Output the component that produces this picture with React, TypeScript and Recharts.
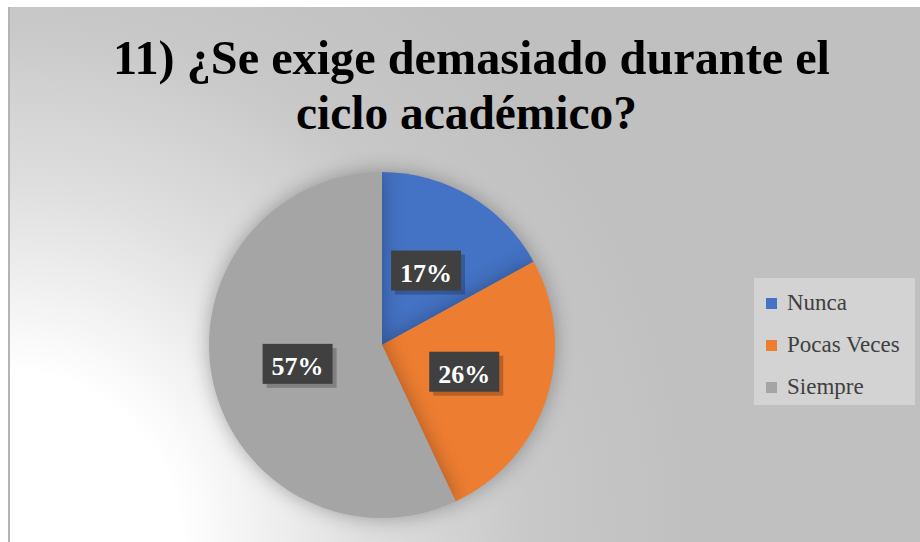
import { Legend, Pie, PieChart, Cell } from 'recharts'

const categories = ['Nunca', 'Pocas Veces', 'Siempre']
const values = [17, 26, 57]
const colors = ['#4472C4', '#ED7D31', '#A5A5A5']
const titleLines = ['11) ¿Se exige demasiado durante el', 'ciclo académico?']

const data = categories.map((name, i) => ({ name, value: values[i], color: colors[i] }))

const RADIAN = Math.PI / 180
const serif = "'Liberation Serif', 'Times New Roman', serif"

function PercentLabel(props: any) {
  const { cx, cy, midAngle, outerRadius, percent } = props
  const r = outerRadius * 0.5
  const x = cx + r * Math.cos(-midAngle * RADIAN)
  const y = cy + r * Math.sin(-midAngle * RADIAN)
  const w = 70
  const h = 40
  return (
    <g>
      <rect x={x - w / 2 + 4} y={y - h / 2 + 4} width={w} height={h} fill="#000" fillOpacity={0.22} />
      <rect x={x - w / 2} y={y - h / 2} width={w} height={h} fill="#404040" />
      <text
        x={x}
        y={y + 11}
        fill="#fff"
        textAnchor="middle"
        fontFamily={serif}
        fontWeight="bold"
        fontSize={26}
      >
        {`${Math.round(percent * 100)}%`}
      </text>
    </g>
  )
}

function LegendBox() {
  return (
    <div
      style={{
        background: '#d3d3d3',
        width: 161,
        height: 127,
        boxSizing: 'border-box',
        paddingTop: 4,
        fontFamily: serif,
        fontSize: 23,
        color: '#404040',
      }}
    >
      {data.map((d) => (
        <div key={d.name} style={{ display: 'flex', alignItems: 'center', height: 42, paddingLeft: 12 }}>
          <span style={{ width: 11, height: 11, background: d.color, marginRight: 10, display: 'inline-block' }} />
          <span>{d.name}</span>
        </div>
      ))}
    </div>
  )
}

export default function App() {
  return (
    <div style={{ position: 'absolute', left: 0, top: 0, width: 920, height: 542, background: '#fff' }}>
      <style>{`.recharts-pie-sector { filter: drop-shadow(0 0 10px rgba(0,0,0,0.3)); }`}</style>
      <div
        style={{
          position: 'absolute',
          left: 8,
          top: 7,
          width: 912,
          height: 535,
          borderLeft: '2px solid #b4b4b4',
          boxSizing: 'border-box',
          background:
            'radial-gradient(circle 700px at 0% 100%, #ffffff 0px, #ffffff 170px, #dedede 360px, #c8c8c8 520px, #c0c0c0 680px)',
        }}
      >
        <PieChart width={910} height={535} style={{ position: 'absolute', left: 0, top: 0 }}>
          <Pie
            data={data}
            dataKey="value"
            nameKey="name"
            cx={367}
            cy={333}
            outerRadius={173}
            startAngle={90}
            endAngle={-270}
            stroke="none"
            label={PercentLabel}
            labelLine={false}
            isAnimationActive={false}
          >
            {data.map((d) => (
              <Cell key={d.name} fill={d.color} />
            ))}
          </Pie>
          <Legend
            content={<LegendBox />}
            wrapperStyle={{ position: 'absolute', left: 744, top: 271, width: 161, height: 127 }}
          />
        </PieChart>
      </div>
      <svg width={920} height={160} style={{ position: 'absolute', left: 0, top: 0, pointerEvents: 'none' }}>
        <text
          x={113}
          y={74}
          textLength={717}
          lengthAdjust="spacingAndGlyphs"
          fontFamily={serif}
          fontWeight="bold"
          fontSize={48}
          fill="#000"
        >
          {titleLines[0]}
        </text>
        <text
          x={296}
          y={129}
          textLength={341}
          lengthAdjust="spacingAndGlyphs"
          fontFamily={serif}
          fontWeight="bold"
          fontSize={48}
          fill="#000"
        >
          {titleLines[1]}
        </text>
      </svg>
    </div>
  )
}
